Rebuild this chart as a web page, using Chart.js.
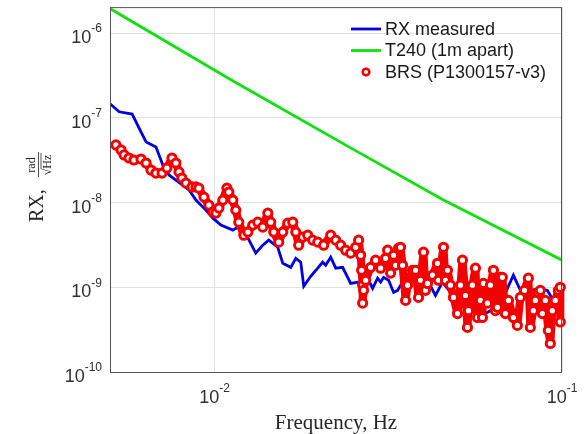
<!DOCTYPE html>
<html>
<head>
<meta charset="utf-8">
<title>RX spectrum</title>
<script src="https://cdn.jsdelivr.net/npm/chart.js@4.4.1/dist/chart.umd.min.js"></script>
<style>
  body { margin: 0; background: #fff; }
  canvas { display: block; }
</style>
</head>
<body>
<canvas id="chartId" width="585" height="434"></canvas>
<script>
// RX measured spectrum
const freqBlue = [0.005, 0.00531, 0.00579, 0.00614, 0.00635, 0.00678, 0.00715, 0.00739, 0.00844, 0.00884,
  0.00944, 0.00989, 0.01043, 0.01129, 0.01167, 0.01214, 0.01314, 0.01376, 0.01432, 0.01520,
  0.01571, 0.01657, 0.01713, 0.01770, 0.01806, 0.01891, 0.01981, 0.02047, 0.02088, 0.02159,
  0.02232, 0.02337, 0.02464, 0.02598, 0.02685, 0.02775, 0.02850, 0.02946, 0.03005, 0.03065,
  0.03169, 0.03275, 0.03363, 0.03499, 0.03713, 0.03915, 0.04101, 0.04323, 0.04529, 0.04775,
  0.05035, 0.05344, 0.05560, 0.05748, 0.06223, 0.06781, 0.07245, 0.07589, 0.08108, 0.08663,
  0.09074, 0.09441, 0.09759, 0.1];
const rxMeasured = [1.47e-7, 1.18e-7, 1.11e-7, 6.82e-8, 5.20e-8, 4.54e-8, 2.56e-8, 2.12e-8, 1.41e-8, 1.07e-8,
  8.15e-9, 6.55e-9, 5.42e-9, 4.73e-9, 5.13e-9, 4.73e-9, 2.53e-9, 3.14e-9, 3.60e-9, 2.97e-9,
  1.92e-9, 1.72e-9, 2.20e-9, 1.98e-9, 1.03e-9, 1.35e-9, 1.68e-9, 1.98e-9, 1.82e-9, 2.26e-9,
  1.68e-9, 1.72e-9, 1.11e-9, 1.15e-9, 8.7e-10, 1.21e-9, 9.7e-10, 1.28e-9, 1.15e-9, 1.31e-9,
  1.21e-9, 8.7e-10, 9.2e-10, 1.21e-9, 1.28e-9, 1.0e-9, 1.21e-9, 8.0e-10, 1.15e-9, 8.7e-10,
  9.2e-10, 7.0e-10, 5.3e-10, 4.4e-10, 5.3e-10, 7.6e-10, 1.39e-9, 9.2e-10, 9.2e-10, 9.7e-10,
  9.2e-10, 7.0e-10, 5.3e-10, 7.0e-10];

// T240 pair, 1 m apart
const freqT240 = [0.005, 0.01114, 0.02464, 0.04559, 0.1];
const t240 = [1.95e-6, 2.82e-7, 4.42e-8, 1.07e-8, 2.09e-9];

// BRS (P1300157-v3)
const freqBrs = [0.00520, 0.00538, 0.00549, 0.00567, 0.00586, 0.00614, 0.00635, 0.00656, 0.00678, 0.00706,
  0.00729, 0.00754, 0.00774, 0.00790, 0.00805, 0.00827, 0.00861, 0.00884, 0.00901, 0.00932,
  0.00963, 0.00989, 0.01009, 0.01029, 0.01056, 0.01085, 0.01099, 0.01129, 0.01151, 0.01174,
  0.01214, 0.01247, 0.01288, 0.01331, 0.01376, 0.01423, 0.01451, 0.01480, 0.01530, 0.01571,
  0.01624, 0.01679, 0.01713, 0.01746, 0.01794, 0.01854, 0.01916, 0.01981, 0.02061, 0.02159,
  0.02232, 0.02306, 0.02384, 0.02464, 0.02547, 0.02598, 0.02633, 0.02650, 0.02668, 0.02668,
  0.02685, 0.02721, 0.02812, 0.02907, 0.03005, 0.03106, 0.03148, 0.03211, 0.03275, 0.03319,
  0.03385, 0.03430, 0.03476, 0.03546, 0.03593, 0.03713, 0.03788, 0.03864, 0.03915, 0.03993,
  0.04047, 0.04101, 0.04240, 0.04381, 0.04410, 0.04559, 0.04620, 0.04681, 0.04775, 0.04871,
  0.05002, 0.05102, 0.05170, 0.05274, 0.05344, 0.05380, 0.05523, 0.05635, 0.05710, 0.05824,
  0.05902, 0.05941, 0.06100, 0.06223, 0.06347, 0.06431, 0.06517, 0.06647, 0.06736, 0.06871,
  0.07013, 0.07245, 0.07440, 0.07589, 0.07795, 0.08002, 0.08108, 0.08271, 0.08381, 0.08549,
  0.08663, 0.08779, 0.08954, 0.09134, 0.09256, 0.09378, 0.09565, 0.09759, 0.09888, 0.09888];
const brs = [4.79e-8, 4.18e-8, 3.65e-8, 3.36e-8, 3.18e-8, 3.27e-8, 2.93e-8, 2.42e-8, 2.23e-8, 2.23e-8,
  2.56e-8, 3.36e-8, 2.93e-8, 2.30e-8, 1.95e-8, 1.70e-8, 1.53e-8, 1.53e-8, 1.48e-8, 1.16e-8,
  9.34e-9, 7.72e-9, 7.51e-9, 8.61e-9, 1.07e-8, 1.48e-8, 1.33e-8, 1.07e-8, 8.15e-9, 5.87e-9,
  4.12e-9, 4.48e-9, 5.42e-9, 5.87e-9, 5.13e-9, 7.51e-9, 5.87e-9, 4.48e-9, 3.41e-9, 4.48e-9,
  5.72e-9, 5.87e-9, 4.48e-9, 3.14e-9, 3.91e-9, 4.12e-9, 3.60e-9, 3.41e-9, 3.14e-9, 4.12e-9,
  3.60e-9, 3.14e-9, 2.74e-9, 2.53e-9, 2.97e-9, 3.60e-9, 2.39e-9, 1.59e-9, 1.06e-9, 6.5e-10,
  9.2e-10, 1.21e-9, 1.72e-9, 2.09e-9, 1.68e-9, 2.20e-9, 2.74e-9, 1.47e-9, 2.39e-9, 1.82e-9,
  2.90e-9, 2.97e-9, 1.82e-9, 7.0e-10, 1.06e-9, 1.59e-9, 1.59e-9, 7.6e-10, 1.21e-9, 2.60e-9,
  9.2e-10, 1.11e-9, 1.39e-9, 1.92e-9, 1.21e-9, 2.97e-9, 1.21e-9, 1.59e-9, 1.06e-9, 7.6e-10,
  4.9e-10, 1.06e-9, 2.09e-9, 8.0e-10, 3.36e-10, 5.3e-10, 1.06e-9, 1.68e-9, 4.4e-10, 7.0e-10,
  4.4e-10, 1.11e-9, 6.5e-10, 1.06e-9, 1.59e-9, 5.3e-10, 5.8e-10, 1.31e-9, 1.31e-9, 4.9e-10,
  7.0e-10, 4.4e-10, 3.55e-10, 7.6e-10, 9.2e-10, 1.28e-9, 3.36e-10, 5.3e-10, 7.0e-10, 8.7e-10,
  9.2e-10, 4.9e-10, 7.0e-10, 3.1e-10, 2.17e-10, 5.3e-10, 7.0e-10, 9.2e-10, 1.0e-9, 3.9e-10];

const seriesNames = ['RX measured', 'T240 (1m apart)', 'BRS (P1300157-v3)'];
const xDecades = [-2, -1];
const yDecades = [-10, -9, -8, -7, -6];

const SANS = '"Liberation Sans", Arial, sans-serif';
const SERIF = '"Liberation Serif", "Times New Roman", serif';

function pairs(xs, ys) {
  return xs.map((x, i) => ({ x: x, y: ys[i] }));
}

// "10" with a raised exponent
function drawPower(ctx, e, x, y, align) {
  ctx.font = '18px ' + SANS;
  let wBase = ctx.measureText('10').width;
  ctx.font = '12px ' + SANS;
  let wExp = ctx.measureText(String(e)).width;
  let left = align === 'right' ? x - wBase - wExp : x - (wBase + wExp) / 2;
  ctx.textAlign = 'left';
  ctx.textBaseline = 'middle';
  ctx.font = '18px ' + SANS;
  ctx.fillText('10', left, y + 5);
  ctx.font = '12px ' + SANS;
  ctx.fillText(String(e), left + wBase, y - 4);
}

const decor = {
  id: 'decor',
  afterDraw(chart) {
    const ctx = chart.ctx;
    const a = chart.chartArea;
    const xs = chart.scales.x, ys = chart.scales.y;
    ctx.save();

    // box round the axes
    ctx.strokeStyle = '#555';
    ctx.lineWidth = 1;
    ctx.strokeRect(a.left + 0.5, a.top + 0.5, a.right - a.left - 1, a.bottom - a.top);

    // tick labels
    ctx.fillStyle = '#303030';
    yDecades.forEach(function (e) {
      drawPower(ctx, e, 102, ys.getPixelForValue(Math.pow(10, e)), 'right');
    });
    xDecades.forEach(function (e) {
      drawPower(ctx, e, xs.getPixelForValue(Math.pow(10, e)), a.bottom + 21, 'center');
    });

    // x title
    ctx.fillStyle = '#262626';
    ctx.font = '21px ' + SERIF;
    ctx.textAlign = 'center';
    ctx.textBaseline = 'alphabetic';
    ctx.fillText('Frequency, Hz', (a.left + a.right) / 2, 429);

    // y title, rotated
    ctx.save();
    ctx.translate(43, 222);
    ctx.rotate(-Math.PI / 2);
    ctx.textAlign = 'left';
    ctx.font = '20px ' + SERIF;
    ctx.fillText('RX,', 0, 0);
    ctx.font = '12px ' + SERIF;
    ctx.textAlign = 'center';
    ctx.fillText('rad', 57, -8);
    ctx.fillText('\u221AHz', 57, 8);
    ctx.lineWidth = 0.8;
    ctx.strokeStyle = '#262626';
    ctx.beginPath();
    ctx.moveTo(45, -4.5);
    ctx.lineTo(70, -4.5);
    ctx.moveTo(53, -2);
    ctx.lineTo(69, -2);
    ctx.stroke();
    ctx.restore();

    // legend
    const ds = chart.data.datasets;
    ctx.font = '18px ' + SANS;
    ctx.textAlign = 'left';
    ctx.textBaseline = 'middle';
    seriesNames.forEach(function (name, i) {
      const y = 29 + i * 21.5;
      const d = ds[i];
      if (i < 2) {
        ctx.strokeStyle = d.borderColor;
        ctx.lineWidth = d.borderWidth;
        ctx.beginPath();
        ctx.moveTo(351, y);
        ctx.lineTo(381, y);
        ctx.stroke();
      } else {
        ctx.strokeStyle = d.pointBorderColor;
        ctx.fillStyle = '#fff';
        ctx.lineWidth = 2.6;
        ctx.beginPath();
        ctx.arc(366, y, 3.3, 0, Math.PI * 2);
        ctx.fill();
        ctx.stroke();
      }
      ctx.fillStyle = '#1a1a1a';
      ctx.fillText(name, 385, y + 1);
    });
    ctx.restore();
  }
};

function keepDecades(list) {
  return function (scale) {
    scale.ticks = list.map(e => ({ value: Math.pow(10, e) }));
  };
}

new Chart(document.getElementById('chartId').getContext('2d'), {
  type: 'line',
  data: {
    datasets: [{
      label: seriesNames[0],
      data: pairs(freqBlue, rxMeasured),
      showLine: true,
      borderColor: '#0000e6',
      borderWidth: 2.8,
      pointRadius: 0,
      order: 1
    }, {
      label: seriesNames[1],
      data: pairs(freqT240, t240),
      showLine: true,
      borderColor: '#11e011',
      borderWidth: 2.8,
      pointRadius: 0,
      order: 2
    }, {
      label: seriesNames[2],
      data: pairs(freqBrs, brs),
      showLine: true,
      borderColor: '#f40000',
      borderWidth: 8,
      borderJoinStyle: 'round',
      borderCapStyle: 'round',
      pointStyle: 'circle',
      pointRadius: 4.1,
      pointBorderWidth: 3,
      pointBorderColor: '#f40000',
      pointBackgroundColor: '#fff',
      clip: 6,
      order: 0
    }]
  },
  options: {
    responsive: false,
    animation: false,
    layout: { padding: { top: 7, right: 23, left: 0, bottom: 0 } },
    plugins: { legend: { display: false }, tooltip: { enabled: false } },
    elements: { line: { tension: 0 } },
    scales: {
      x: {
        type: 'logarithmic',
        min: 0.005,
        max: 0.1,
        afterBuildTicks: keepDecades(xDecades),
        afterFit: function (scale) { scale.height = 62; },
        ticks: { display: false },
        grid: { color: '#e2e2e2', drawTicks: false },
        border: { display: false }
      },
      y: {
        type: 'logarithmic',
        min: 1e-10,
        max: 2.03e-6,
        afterBuildTicks: keepDecades(yDecades),
        afterFit: function (scale) { scale.width = 110; },
        ticks: { display: false },
        grid: { color: '#e2e2e2', drawTicks: false },
        border: { display: false }
      }
    }
  },
  plugins: [decor]
});
</script>
</body>
</html>
